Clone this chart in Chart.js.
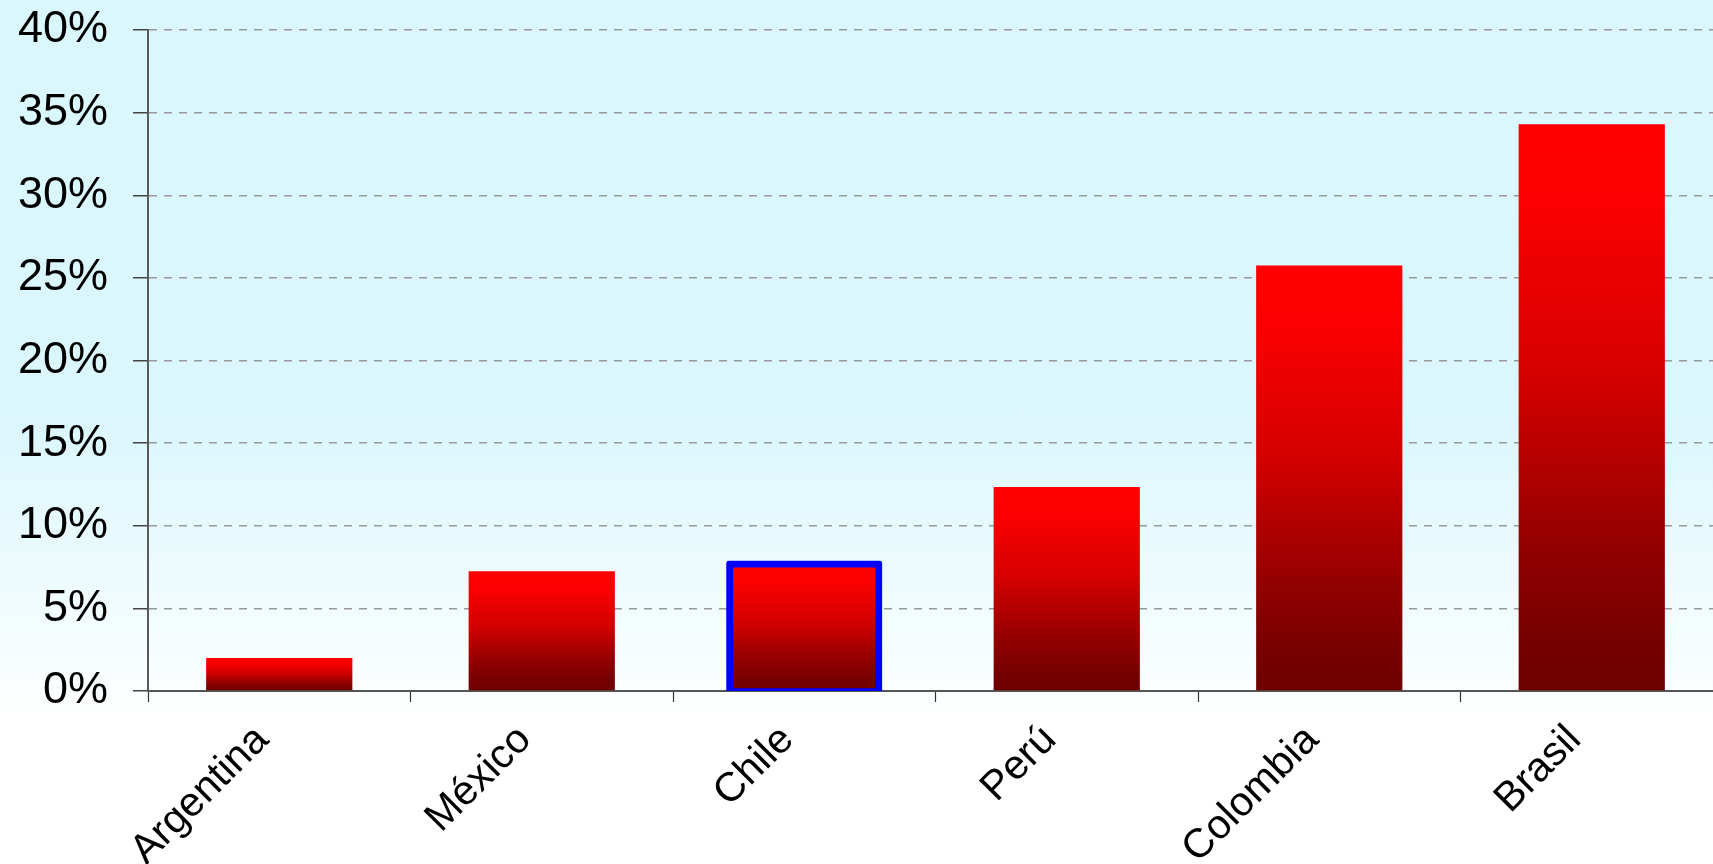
<!DOCTYPE html>
<html>
<head>
<meta charset="utf-8">
<script src="https://cdn.jsdelivr.net/npm/chart.js@4/dist/chart.umd.min.js"></script>
<style>
  html, body { margin: 0; padding: 0; overflow: hidden; }
  body {
    width: 1713px; height: 864px;
    background: linear-gradient(to bottom, #d9f7fd 0px, #dbf7fd 430px, #ffffff 720px);
  }
  #wrap { width: 1723px; height: 864px; position: relative; }
</style>
</head>
<body>
<div id="wrap"><canvas id="barChart"></canvas></div>
<script>
// data
var countries = ['Argentina', 'México', 'Chile', 'Perú', 'Colombia', 'Brasil'];
var shares = [2.0, 7.25, 7.6, 12.35, 25.75, 34.3];
var highlighted = 'Chile';
var yMin = 0, yMax = 40, yStep = 5;

function barGradient(context) {
    var chart = context.chart;
    if (!chart.chartArea || context.type !== 'data') return '#ff0000';
    var y = chart.scales.y;
    var top = y.getPixelForValue(context.raw);
    var base = y.getPixelForValue(0);
    if (!isFinite(top) || top === base) return '#ff0000';
    var g = chart.ctx.createLinearGradient(0, top, 0, base);
    g.addColorStop(0, '#ff0000');
    g.addColorStop(0.15, '#fa0000');
    g.addColorStop(0.45, '#d40000');
    g.addColorStop(0.75, '#920000');
    g.addColorStop(0.9, '#780000');
    g.addColorStop(1, '#6e0000');
    return g;
}

function isHighlighted(context) {
    return countries[context.dataIndex] === highlighted;
}

var ctx = document.getElementById('barChart').getContext('2d');
var barChart = new Chart(ctx, {
    type: 'bar',
    data: {
        labels: countries,
        datasets: [{
            data: shares,
            backgroundColor: barGradient,
            borderColor: '#0000ff',
            borderWidth: function (c) { return isHighlighted(c) ? 7 : 0; },
            borderRadius: function (c) { return isHighlighted(c) ? 3 : 0; },
            inflateAmount: function (c) { return isHighlighted(c) ? 5 : 0; },
            borderSkipped: false,
            categoryPercentage: 1,
            barPercentage: 0.557,
            clip: {left: 20, top: 20, right: 20, bottom: 0}
        }]
    },
    options: {
        responsive: true,
        maintainAspectRatio: false,
        animation: false,
        layout: {padding: {top: 30, left: 0, right: 0, bottom: 0}},
        plugins: {
            legend: {display: false},
            tooltip: {enabled: false}
        },
        scales: {
            x: {
                afterFit: function (scale) {
                    scale.height = 173;
                    scale.paddingLeft = 0;
                    scale.paddingRight = 0;
                },
                grid: {
                    drawOnChartArea: false,
                    tickLength: 11,
                    tickColor: '#333333',
                    tickWidth: 1.2,
                    offset: true
                },
                border: {color: '#555555', width: 2},
                ticks: {
                    color: '#000000',
                    font: {family: "'Liberation Sans', Arial, sans-serif", size: 41},
                    minRotation: 45,
                    maxRotation: 45,
                    padding: 14,
                    labelOffset: -17,
                    autoSkip: false
                }
            },
            y: {
                min: yMin,
                max: yMax,
                afterFit: function (scale) {
                    scale.width = 148;
                    scale.paddingTop = 0;
                    scale.paddingBottom = 0;
                },
                grid: {
                    color: '#999999',
                    lineWidth: 1.5,
                    tickLength: 15,
                    tickColor: '#444444',
                    tickWidth: 1.5,
                    tickBorderDash: []
                },
                border: {color: '#5a5a5a', width: 2, dash: [8, 7]},
                ticks: {
                    stepSize: yStep,
                    color: '#000000',
                    padding: 25,
                    font: {family: "'Liberation Sans', Arial, sans-serif", size: 45},
                    callback: function (v) { return v + '%'; }
                }
            }
        }
    }
});
</script>
</body>
</html>
